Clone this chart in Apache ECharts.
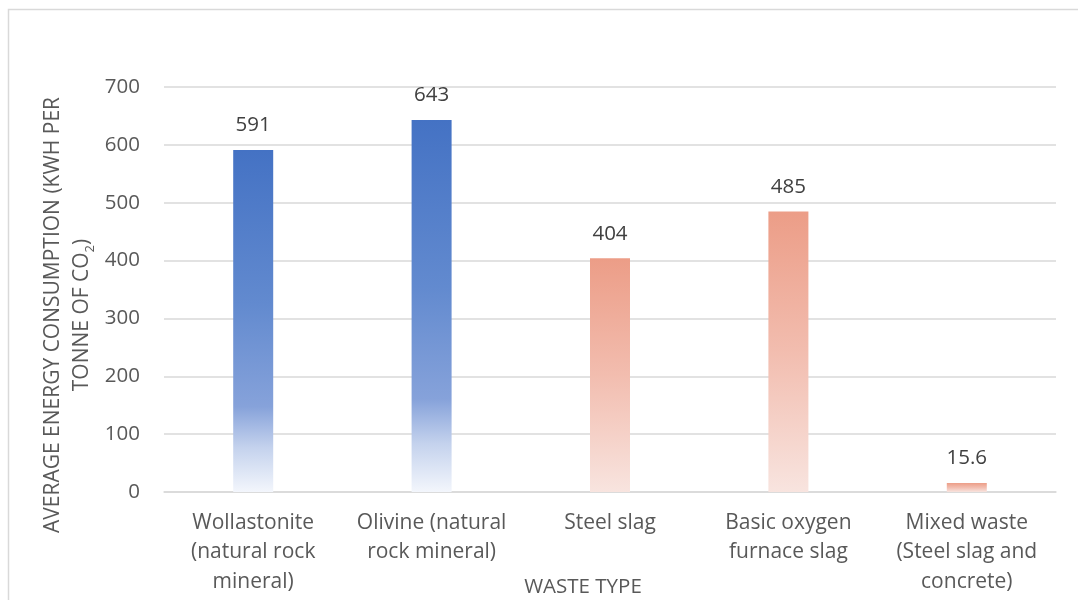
<!DOCTYPE html>
<html>
<head>
<meta charset="utf-8">
<script src="https://cdn.jsdelivr.net/npm/echarts@6/dist/echarts.min.js"></script>
<style>
  html, body { margin: 0; padding: 0; background: #ffffff; }
  #chart { width: 1078px; height: 600px; }
</style>
</head>
<body>
<div id="chart"></div>
<script>
// Waste / mineral feedstocks and their average energy use (kWh per tonne of CO2)
const categories = [
  'Wollastonite\n(natural rock\nmineral)',
  'Olivine (natural\nrock mineral)',
  'Steel slag',
  'Basic oxygen\nfurnace slag',
  'Mixed waste\n(Steel slag and\nconcrete)'
];
const energyValues = [591, 643, 404, 485, 15.6];
const sourceKind = ['natural', 'natural', 'waste', 'waste', 'waste'];
const yTicks = [0, 100, 200, 300, 400, 500, 600, 700];

const FONT = '"Open Sans", "Liberation Sans", sans-serif';

const gradients = {
  natural: new echarts.graphic.LinearGradient(0, 0, 0, 1, [
    { offset: 0, color: '#4472C4' },
    { offset: 0.45, color: '#628ACF' },
    { offset: 0.75, color: '#86A2DA' },
    { offset: 0.87, color: '#C4D2ED' },
    { offset: 1, color: '#F3F6FC' }
  ]),
  waste: new echarts.graphic.LinearGradient(0, 0, 0, 1, [
    { offset: 0, color: '#EC9D87' },
    { offset: 0.5, color: '#F2BDAF' },
    { offset: 1, color: '#F8E4DF' }
  ])
};

const barData = energyValues.map((v, i) => ({
  value: v,
  itemStyle: { color: gradients[sourceKind[i]] }
}));

const chart = echarts.init(document.getElementById('chart'), null, { renderer: 'canvas' });

chart.setOption({
  animation: false,
  backgroundColor: '#ffffff',
  grid: { left: 164, right: 22, top: 87, bottom: 108, containLabel: false },
  xAxis: {
    type: 'category',
    data: categories,
    axisTick: { show: false },
    axisLine: { lineStyle: { color: '#D9D9D9', width: 1.5 } },
    axisLabel: {
      color: '#595959',
      fontFamily: FONT,
      fontSize: 21,
      lineHeight: 29.5,
      margin: 16,
      interval: 0,
      align: 'center'
    }
  },
  yAxis: {
    type: 'value',
    min: yTicks[0],
    max: yTicks[yTicks.length - 1],
    interval: yTicks[1] - yTicks[0],
    axisLine: { show: false },
    axisTick: { show: false },
    splitLine: { lineStyle: { color: '#D9D9D9', width: 1.5 } },
    axisLabel: {
      color: '#595959',
      fontFamily: FONT,
      fontSize: 20.5,
      margin: 24
    }
  },
  series: [{
    type: 'bar',
    data: barData,
    barWidth: 40,
    label: {
      show: true,
      position: 'top',
      distance: 14,
      color: '#404040',
      fontFamily: FONT,
      fontSize: 20.5
    }
  }],
  graphic: [
    {
      type: 'rect',
      silent: true,
      shape: { x: 8.5, y: 9.5, width: 1200, height: 800 },
      style: { fill: 'none', stroke: '#D9D9D9', lineWidth: 1.5 },
      z: -1
    },
    {
      type: 'text',
      x: 68,
      y: 315,
      rotation: Math.PI / 2,
      style: {
        text: 'AVERAGE ENERGY CONSUMPTION (KWH PER\nTONNE OF CO{sub|2})',
        font: '21px ' + FONT,
        fill: '#595959',
        align: 'center',
        verticalAlign: 'middle',
        lineHeight: 29,
        rich: {
          sub: {
            fontSize: 13,
            fontFamily: FONT,
            fill: '#595959',
            verticalAlign: 'bottom',
            lineHeight: 24
          }
        }
      }
    },
    {
      type: 'text',
      x: 583,
      y: 587,
      style: {
        text: 'WASTE TYPE',
        font: '20.5px ' + FONT,
        fill: '#595959',
        align: 'center',
        verticalAlign: 'middle'
      }
    }
  ]
});
</script>
</body>
</html>
